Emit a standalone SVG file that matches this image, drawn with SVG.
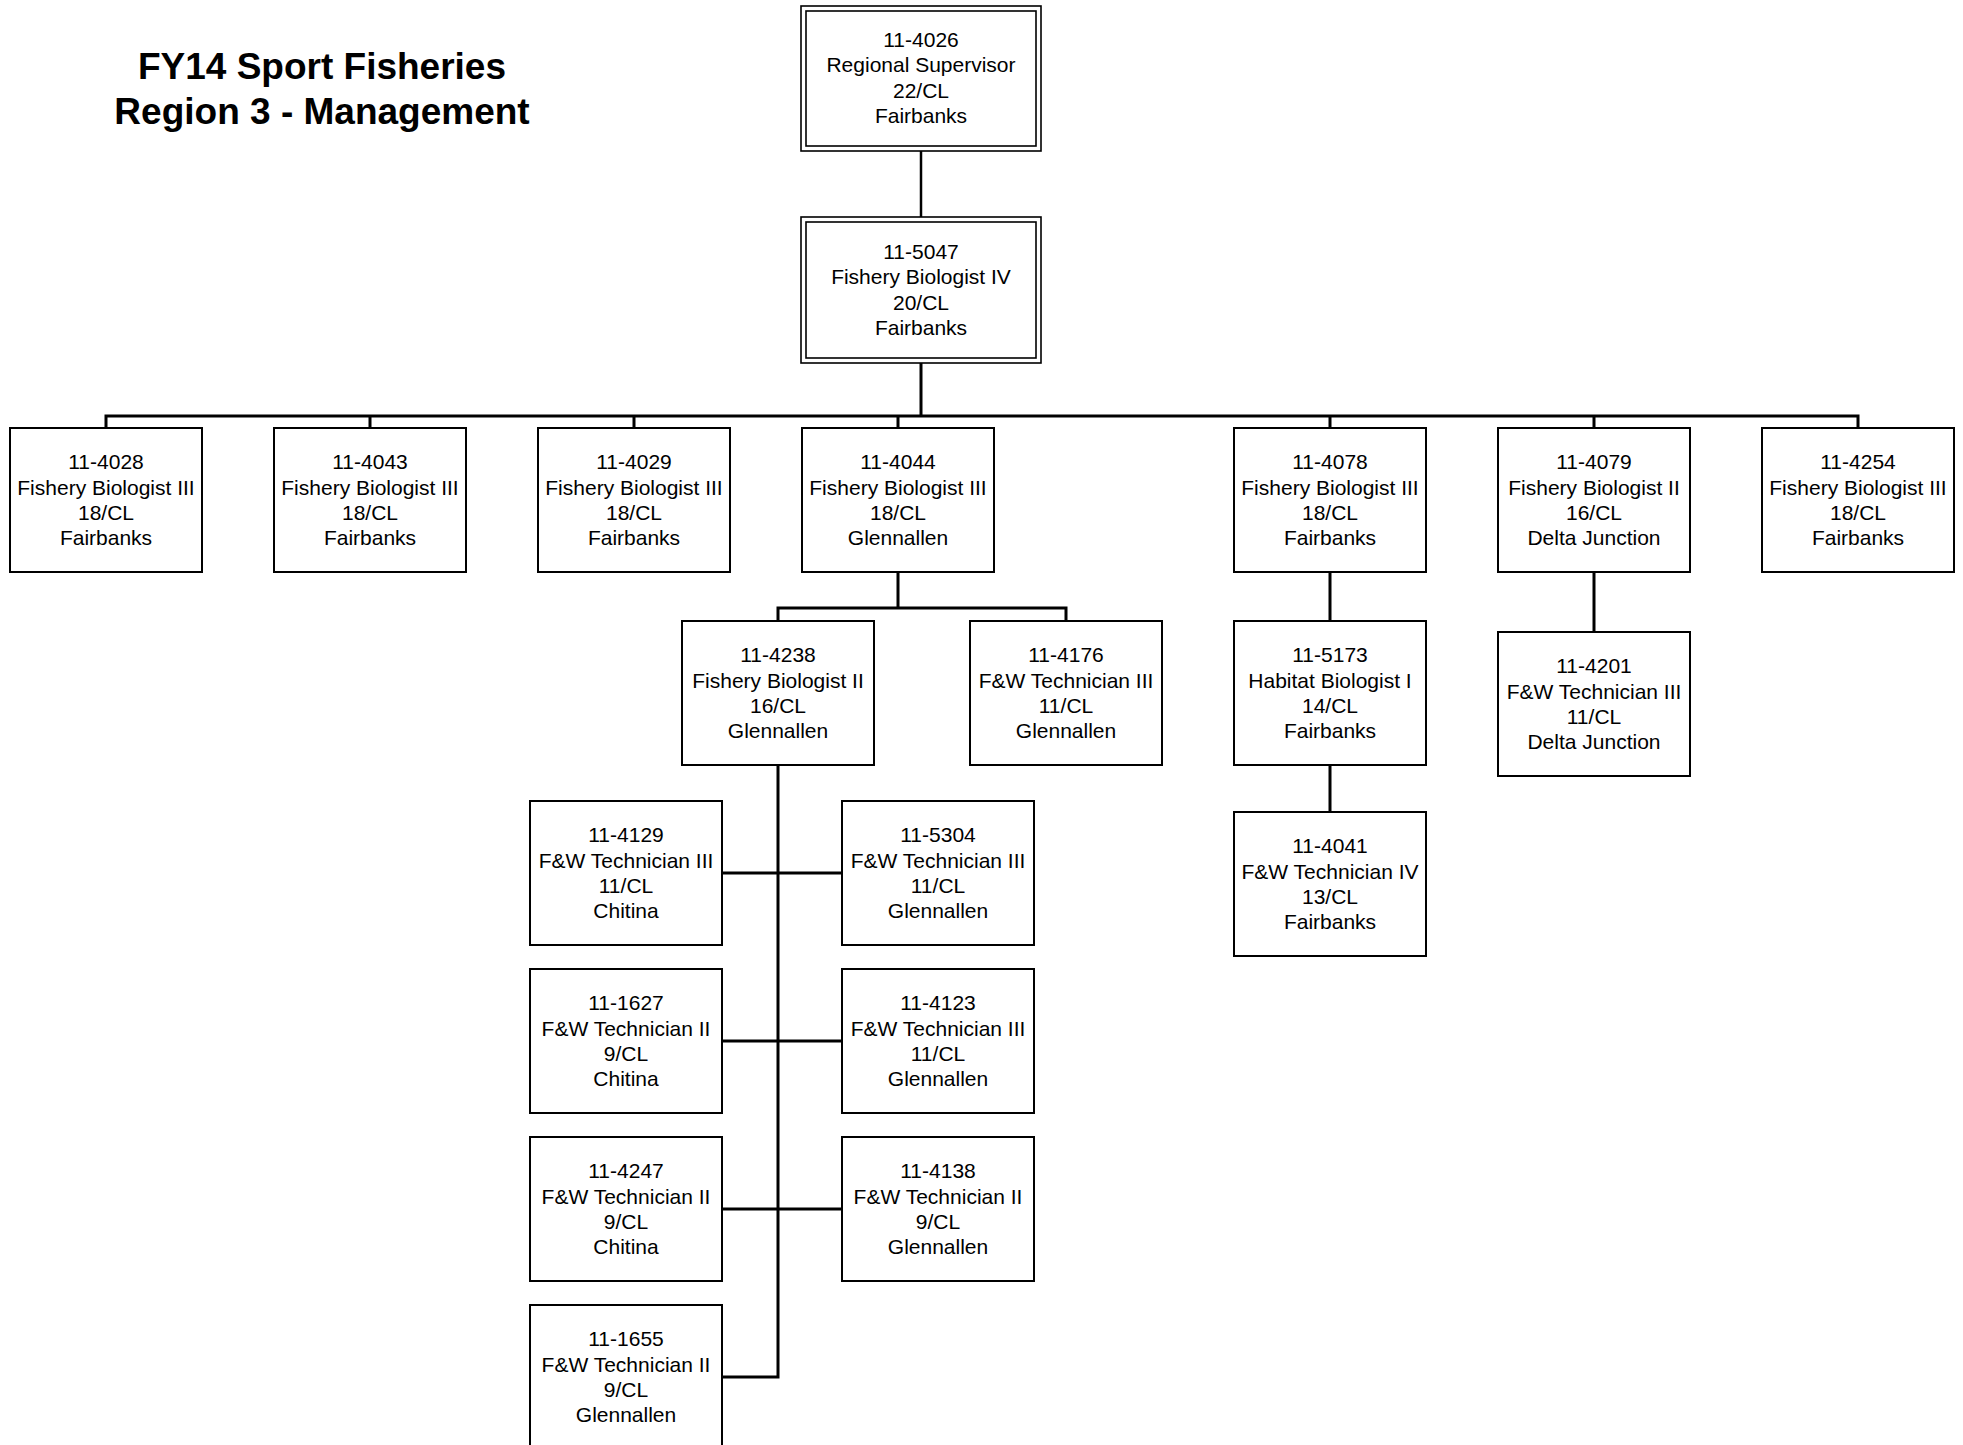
<svg xmlns="http://www.w3.org/2000/svg" width="1963" height="1445" viewBox="0 0 1963 1445">
<style>
.b{fill:#fff;stroke:#000;stroke-width:2}
.d{fill:#fff;stroke:#000;stroke-width:1.6}
.t{font-family:"Liberation Sans",Arial,sans-serif;font-size:21px;fill:#000;text-anchor:middle}
.h{font-family:"Liberation Sans",Arial,sans-serif;font-size:37px;font-weight:bold;fill:#000;text-anchor:middle}
.c{fill:none;stroke:#000;stroke-width:3}
.c2{fill:none;stroke:#000;stroke-width:2.5}
</style>
<rect width="1963" height="1445" fill="#fff"/>
<g id="title">
<text class="h" x="322" y="79">FY14 Sport Fisheries</text>
<text class="h" x="322" y="124">Region 3 - Management</text>
</g>
<g id="connectors">
<path class="c2" d="M921 151V217"/>
<path class="c" d="M921 363V416"/>
<path class="c" d="M106 428V416H1858V428M370 416V428M634 416V428M898 416V428M1330 416V428M1594 416V428"/>
<path class="c" d="M898 572V608M778 621V608H1066V621"/>
<path class="c" d="M1330 572V621M1330 765V812"/>
<path class="c" d="M1594 572V632"/>
<path class="c" d="M778 765V1377H722M722 873H842M722 1041H842M722 1209H842"/>
</g>
<g id="n4026">
<rect class="d" x="801" y="6" width="240" height="145"/>
<rect class="d" x="806" y="11" width="230" height="135"/>
<text class="t" x="921" y="46.5">11-4026</text>
<text class="t" x="921" y="72">Regional Supervisor</text>
<text class="t" x="921" y="97.5">22/CL</text>
<text class="t" x="921" y="123">Fairbanks</text>
</g>
<g id="n5047">
<rect class="d" x="801" y="217" width="240" height="146"/>
<rect class="d" x="806" y="222" width="230" height="136"/>
<text class="t" x="921" y="258.5">11-5047</text>
<text class="t" x="921" y="284">Fishery Biologist IV</text>
<text class="t" x="921" y="309.5">20/CL</text>
<text class="t" x="921" y="335">Fairbanks</text>
</g>
<g id="n4028">
<rect class="b" x="10" y="428" width="192" height="144"/>
<text class="t" x="106" y="469">11-4028</text>
<text class="t" x="106" y="494.5">Fishery Biologist III</text>
<text class="t" x="106" y="520">18/CL</text>
<text class="t" x="106" y="545">Fairbanks</text>
</g>
<g id="n4043">
<rect class="b" x="274" y="428" width="192" height="144"/>
<text class="t" x="370" y="469">11-4043</text>
<text class="t" x="370" y="494.5">Fishery Biologist III</text>
<text class="t" x="370" y="520">18/CL</text>
<text class="t" x="370" y="545">Fairbanks</text>
</g>
<g id="n4029">
<rect class="b" x="538" y="428" width="192" height="144"/>
<text class="t" x="634" y="469">11-4029</text>
<text class="t" x="634" y="494.5">Fishery Biologist III</text>
<text class="t" x="634" y="520">18/CL</text>
<text class="t" x="634" y="545">Fairbanks</text>
</g>
<g id="n4044">
<rect class="b" x="802" y="428" width="192" height="144"/>
<text class="t" x="898" y="469">11-4044</text>
<text class="t" x="898" y="494.5">Fishery Biologist III</text>
<text class="t" x="898" y="520">18/CL</text>
<text class="t" x="898" y="545">Glennallen</text>
</g>
<g id="n4078">
<rect class="b" x="1234" y="428" width="192" height="144"/>
<text class="t" x="1330" y="469">11-4078</text>
<text class="t" x="1330" y="494.5">Fishery Biologist III</text>
<text class="t" x="1330" y="520">18/CL</text>
<text class="t" x="1330" y="545">Fairbanks</text>
</g>
<g id="n4079">
<rect class="b" x="1498" y="428" width="192" height="144"/>
<text class="t" x="1594" y="469">11-4079</text>
<text class="t" x="1594" y="494.5">Fishery Biologist II</text>
<text class="t" x="1594" y="520">16/CL</text>
<text class="t" x="1594" y="545">Delta Junction</text>
</g>
<g id="n4254">
<rect class="b" x="1762" y="428" width="192" height="144"/>
<text class="t" x="1858" y="469">11-4254</text>
<text class="t" x="1858" y="494.5">Fishery Biologist III</text>
<text class="t" x="1858" y="520">18/CL</text>
<text class="t" x="1858" y="545">Fairbanks</text>
</g>
<g id="n4238">
<rect class="b" x="682" y="621" width="192" height="144"/>
<text class="t" x="778" y="662">11-4238</text>
<text class="t" x="778" y="687.5">Fishery Biologist II</text>
<text class="t" x="778" y="713">16/CL</text>
<text class="t" x="778" y="738">Glennallen</text>
</g>
<g id="n4176">
<rect class="b" x="970" y="621" width="192" height="144"/>
<text class="t" x="1066" y="662">11-4176</text>
<text class="t" x="1066" y="687.5">F&amp;W Technician III</text>
<text class="t" x="1066" y="713">11/CL</text>
<text class="t" x="1066" y="738">Glennallen</text>
</g>
<g id="n5173">
<rect class="b" x="1234" y="621" width="192" height="144"/>
<text class="t" x="1330" y="662">11-5173</text>
<text class="t" x="1330" y="687.5">Habitat Biologist I</text>
<text class="t" x="1330" y="713">14/CL</text>
<text class="t" x="1330" y="738">Fairbanks</text>
</g>
<g id="n4041">
<rect class="b" x="1234" y="812" width="192" height="144"/>
<text class="t" x="1330" y="853">11-4041</text>
<text class="t" x="1330" y="878.5">F&amp;W Technician IV</text>
<text class="t" x="1330" y="904">13/CL</text>
<text class="t" x="1330" y="929">Fairbanks</text>
</g>
<g id="n4201">
<rect class="b" x="1498" y="632" width="192" height="144"/>
<text class="t" x="1594" y="673">11-4201</text>
<text class="t" x="1594" y="698.5">F&amp;W Technician III</text>
<text class="t" x="1594" y="724">11/CL</text>
<text class="t" x="1594" y="749">Delta Junction</text>
</g>
<g id="n4129">
<rect class="b" x="530" y="801" width="192" height="144"/>
<text class="t" x="626" y="842">11-4129</text>
<text class="t" x="626" y="867.5">F&amp;W Technician III</text>
<text class="t" x="626" y="893">11/CL</text>
<text class="t" x="626" y="918">Chitina</text>
</g>
<g id="n5304">
<rect class="b" x="842" y="801" width="192" height="144"/>
<text class="t" x="938" y="842">11-5304</text>
<text class="t" x="938" y="867.5">F&amp;W Technician III</text>
<text class="t" x="938" y="893">11/CL</text>
<text class="t" x="938" y="918">Glennallen</text>
</g>
<g id="n1627">
<rect class="b" x="530" y="969" width="192" height="144"/>
<text class="t" x="626" y="1010">11-1627</text>
<text class="t" x="626" y="1035.5">F&amp;W Technician II</text>
<text class="t" x="626" y="1061">9/CL</text>
<text class="t" x="626" y="1086">Chitina</text>
</g>
<g id="n4123">
<rect class="b" x="842" y="969" width="192" height="144"/>
<text class="t" x="938" y="1010">11-4123</text>
<text class="t" x="938" y="1035.5">F&amp;W Technician III</text>
<text class="t" x="938" y="1061">11/CL</text>
<text class="t" x="938" y="1086">Glennallen</text>
</g>
<g id="n4247">
<rect class="b" x="530" y="1137" width="192" height="144"/>
<text class="t" x="626" y="1178">11-4247</text>
<text class="t" x="626" y="1203.5">F&amp;W Technician II</text>
<text class="t" x="626" y="1229">9/CL</text>
<text class="t" x="626" y="1254">Chitina</text>
</g>
<g id="n4138">
<rect class="b" x="842" y="1137" width="192" height="144"/>
<text class="t" x="938" y="1178">11-4138</text>
<text class="t" x="938" y="1203.5">F&amp;W Technician II</text>
<text class="t" x="938" y="1229">9/CL</text>
<text class="t" x="938" y="1254">Glennallen</text>
</g>
<g id="n1655">
<rect class="b" x="530" y="1305" width="192" height="144"/>
<text class="t" x="626" y="1346">11-1655</text>
<text class="t" x="626" y="1371.5">F&amp;W Technician II</text>
<text class="t" x="626" y="1397">9/CL</text>
<text class="t" x="626" y="1422">Glennallen</text>
</g>
</svg>
